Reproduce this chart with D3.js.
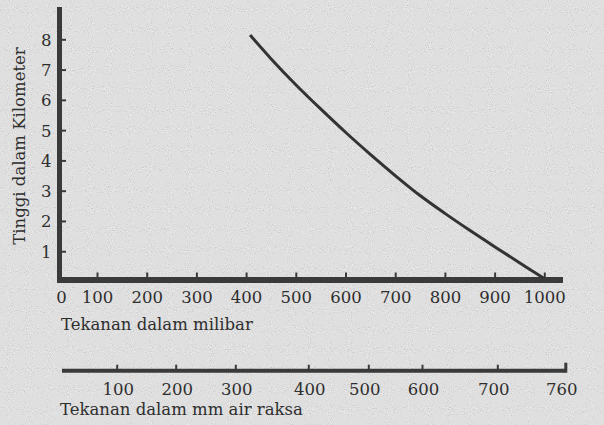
<!DOCTYPE html>
<html>
<head>
<meta charset="utf-8">
<script src="https://cdn.jsdelivr.net/npm/d3@7"></script>
<style>
  html, body { margin: 0; padding: 0; background: #dedede; }
  svg { display: block; }
  text { font-family: "DejaVu Serif", serif; fill: #2e2e2e; }
</style>
</head>
<body>
<svg id="chart" width="604" height="425"></svg>
<script>
// ---- data ----
const pressureMb = [1000, 950, 900, 850, 800, 750, 700, 650, 600, 550, 500, 450, 408];
const altitudeKm = [0.1, 0.62, 1.15, 1.69, 2.25, 2.84, 3.5, 4.2, 4.93, 5.7, 6.5, 7.36, 8.14];
const mbTicks = [0, 100, 200, 300, 400, 500, 600, 700, 800, 900, 1000];
const kmTicks = [1, 2, 3, 4, 5, 6, 7, 8];
const mmHgTicks = [100, 200, 300, 400, 500, 600, 700, 760];
const yTitle = "Tinggi dalam Kilometer";
const xTitle = "Tekanan dalam milibar";
const x2Title = "Tekanan dalam mm air raksa";

// ---- layout ----
const W = 604, H = 425;
const ink = "#3a3a3a";
const svg = d3.select("#chart");

// textured background
const defs = svg.append("defs");
const f = defs.append("filter").attr("id", "speck").attr("x", 0).attr("y", 0).attr("width", "100%").attr("height", "100%");
f.append("feTurbulence").attr("type", "fractalNoise").attr("baseFrequency", 0.95).attr("numOctaves", 1).attr("seed", 7).attr("result", "t");
f.append("feColorMatrix").attr("in", "t").attr("type", "matrix")
  .attr("values", "0 0 0 0 1  0 0 0 0 1  0 0 0 0 1  6 0 0 0 -3.6").attr("result", "light");
f.append("feColorMatrix").attr("in", "t").attr("type", "matrix")
  .attr("values", "0 0 0 0 0.45  0 0 0 0 0.45  0 0 0 0 0.45  -6 0 0 0 2.4").attr("result", "dark");
const m = f.append("feMerge");
m.append("feMergeNode").attr("in", "light");
m.append("feMergeNode").attr("in", "dark");

svg.append("rect").attr("width", W).attr("height", H).attr("fill", "#dfdfdf");
svg.append("rect").attr("width", W).attr("height", H).attr("fill", "#fff")
  .attr("filter", "url(#speck)").attr("opacity", 0.5);

// scales
const x = d3.scaleLinear().domain([0, 100, 1000]).range([61, 97, 544.3]);
const y = d3.scaleLinear().domain([0, 8]).range([281.5, 39.3]);
const x2 = d3.scaleLinear()
  .domain([0, 100, 200, 300, 400, 500, 600, 700, 760])
  .range([62, 116.7, 175.7, 235.3, 308.3, 368.3, 422, 497.3, 565.3]);

const axisY0 = 280;     // x-axis line position
const axisX0 = 59.5;    // y-axis line position
const axis2Y = 370.7;   // mm Hg axis line
const fmt = d3.format("d");

// y axis
const gy = svg.append("g").attr("transform", `translate(${axisX0},0)`)
  .call(d3.axisLeft(y).tickValues(kmTicks).tickFormat(fmt).tickSize(-6.5).tickPadding(0));
gy.select(".domain").remove();
gy.selectAll(".tick line").attr("stroke", ink).attr("stroke-width", 2);
gy.selectAll(".tick text").attr("x", -8).attr("dy", "0.36em")
  .attr("font-size", 16.5).attr("fill", "#2e2e2e").attr("font-family", "DejaVu Serif, serif");
svg.append("line").attr("x1", axisX0).attr("x2", axisX0).attr("y1", 7).attr("y2", axisY0 + 3)
  .attr("stroke", ink).attr("stroke-width", 5);

// x axis (millibar)
const gx = svg.append("g").attr("transform", `translate(0,${axisY0})`)
  .call(d3.axisBottom(x).tickValues(mbTicks).tickFormat(fmt).tickSize(-7.5).tickPadding(0));
gx.select(".domain").remove();
gx.selectAll(".tick line").attr("stroke", ink).attr("stroke-width", 2)
  .attr("display", d => d === 0 ? "none" : null);
gx.selectAll(".tick text").attr("y", 23).attr("dy", 0)
  .attr("font-size", 16.5).attr("fill", "#2e2e2e").attr("font-family", "DejaVu Serif, serif");
svg.append("line").attr("x1", 57).attr("x2", 563).attr("y1", axisY0).attr("y2", axisY0)
  .attr("stroke", ink).attr("stroke-width", 6);

// mm Hg axis
const g2 = svg.append("g").attr("transform", `translate(0,${axis2Y})`)
  .call(d3.axisBottom(x2).tickValues(mmHgTicks).tickFormat(fmt).tickSize(-6).tickPadding(0));
g2.select(".domain").remove();
g2.selectAll(".tick line").attr("stroke", ink)
  .attr("stroke-width", d => d === 760 ? 3 : 2)
  .attr("y2", d => d === 760 ? -8 : -6)
  .attr("y1", d => d === 760 ? 2 : 0);
g2.selectAll(".tick text").attr("y", 24.5).attr("dy", 0)
  .attr("dx", d => (d === 500 || d === 700 || d === 760) ? -4 : 1)
  .attr("font-size", 16.5).attr("fill", "#2e2e2e").attr("font-family", "DejaVu Serif, serif");
svg.append("line").attr("x1", 62).attr("x2", 565.5).attr("y1", axis2Y).attr("y2", axis2Y)
  .attr("stroke", ink).attr("stroke-width", 4);

// titles
svg.append("text").attr("x", 61).attr("y", 330).attr("font-size", 16.5).text(xTitle);
svg.append("text").attr("x", 60).attr("y", 415).attr("font-size", 16.5).text(x2Title);
svg.append("text").attr("transform", "translate(25,146) rotate(-90)")
  .attr("text-anchor", "middle").attr("font-size", 16.5).text(yTitle);

// curve
const pts = pressureMb.map((p, i) => [p, altitudeKm[i]]);
const line = d3.line().x(d => x(d[0])).y(d => y(d[1])).curve(d3.curveCatmullRom.alpha(0.5));
svg.append("path").datum(pts).attr("d", line)
  .attr("fill", "none").attr("stroke", "#333").attr("stroke-width", 3).attr("stroke-linecap", "butt");
</script>
</body>
</html>
